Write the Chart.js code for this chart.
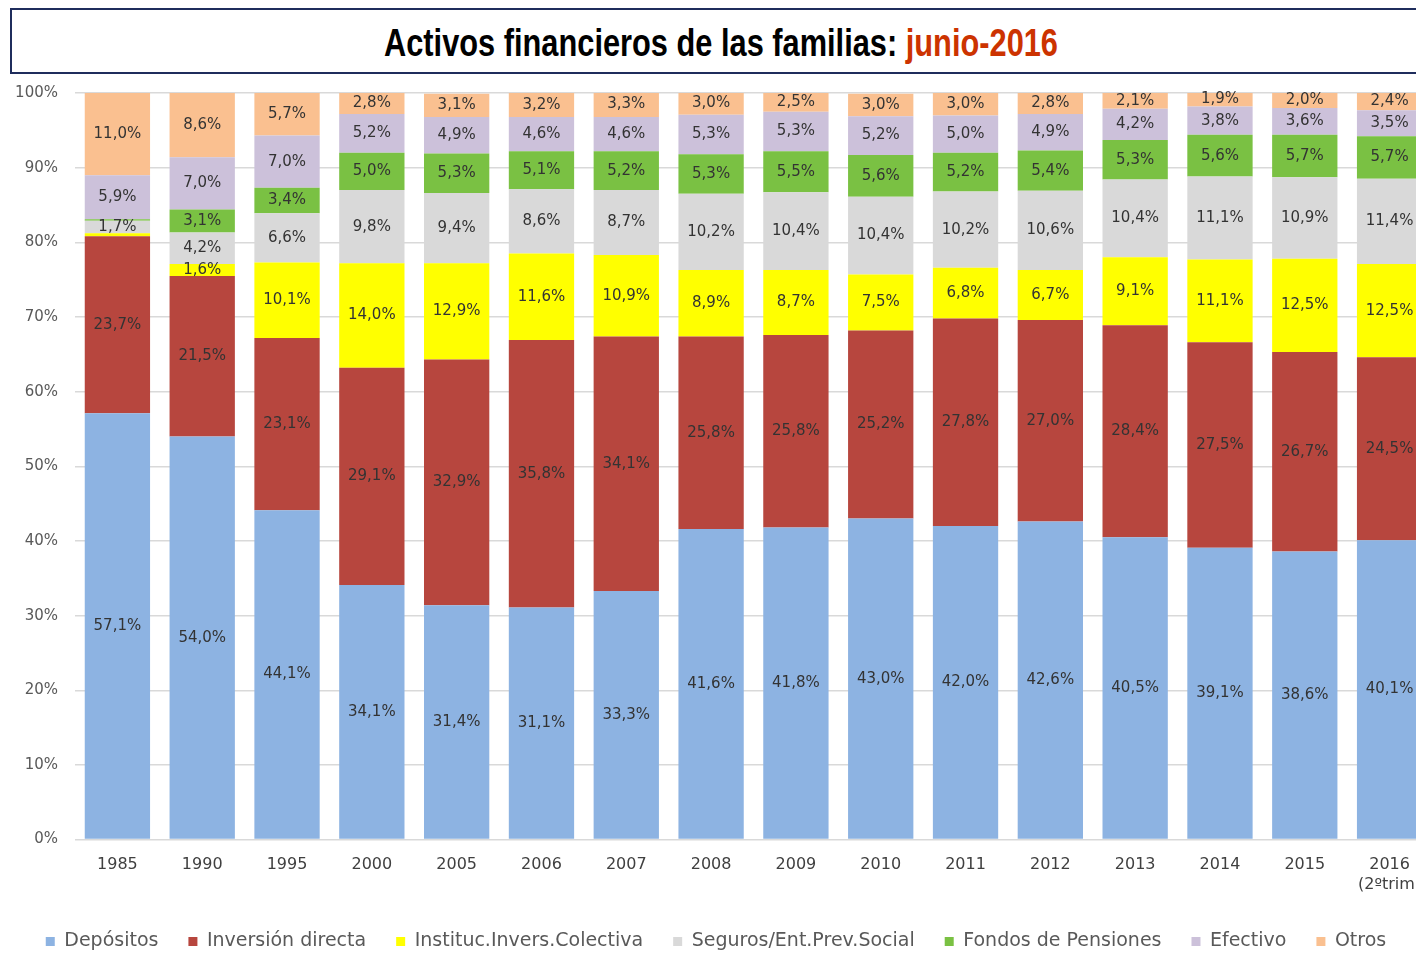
<!DOCTYPE html>
<html>
<head>
<meta charset="utf-8">
<script src="https://cdn.jsdelivr.net/npm/chart.js@4.4.1/dist/chart.umd.min.js"></script>
<style>
  html, body { margin: 0; padding: 0; background: #fff; overflow: hidden; width: 1416px; height: 955px; }
  #titleBox {
    position: absolute; left: 10px; top: 8px; width: 1440px; height: 62px;
    border: 2px solid #1f2d5c; box-sizing: content-box;
  }
  #titleText {
    position: absolute; left: 721px; top: 43px; transform: translate(-50%, -50%) scaleX(0.81);
    white-space: nowrap; font-family: "Liberation Sans Narrow", "Liberation Sans", sans-serif;
    font-weight: bold; font-size: 38px; color: #000;
  }
  #titleText span { color: #cc3300; }
  #wrap { position: absolute; left: 0; top: 0; width: 1432px; height: 961px; }
</style>
</head>
<body>
<div id="titleBox"></div>
<div id="titleText">Activos financieros de las familias: <span>junio-2016</span></div>
<div id="wrap"><canvas id="chart"></canvas></div>
<script>
// Categories and series (percent of total household financial assets)
const years = ['1985','1990','1995','2000','2005','2006','2007','2008','2009','2010','2011','2012','2013','2014','2015',['2016','(2ºtrim)']];

const depositos   = [57.1, 54.0, 44.1, 34.1, 31.4, 31.1, 33.3, 41.6, 41.8, 43.0, 42.0, 42.6, 40.5, 39.1, 38.6, 40.1];
const inversion   = [23.7, 21.5, 23.1, 29.1, 32.9, 35.8, 34.1, 25.8, 25.8, 25.2, 27.8, 27.0, 28.4, 27.5, 26.7, 24.5];
const instituc    = [0.4, 1.6, 10.1, 14.0, 12.9, 11.6, 10.9, 8.9, 8.7, 7.5, 6.8, 6.7, 9.1, 11.1, 12.5, 12.5];
const seguros     = [1.7, 4.2, 6.6, 9.8, 9.4, 8.6, 8.7, 10.2, 10.4, 10.4, 10.2, 10.6, 10.4, 11.1, 10.9, 11.4];
const fondos      = [0.2, 3.1, 3.4, 5.0, 5.3, 5.1, 5.2, 5.3, 5.5, 5.6, 5.2, 5.4, 5.3, 5.6, 5.7, 5.7];
const efectivo    = [5.9, 7.0, 7.0, 5.2, 4.9, 4.6, 4.6, 5.3, 5.3, 5.2, 5.0, 4.9, 4.2, 3.8, 3.6, 3.5];
const otros       = [11.0, 8.6, 5.7, 2.8, 3.1, 3.2, 3.3, 3.0, 2.5, 3.0, 3.0, 2.8, 2.1, 1.9, 2.0, 2.4];

const yTicks = [0, 10, 20, 30, 40, 50, 60, 70, 80, 90, 100];

const FONT = '"DejaVu Sans", sans-serif';

// draws the value inside each segment
const segmentLabels = {
  id: 'segmentLabels',
  afterDatasetsDraw(chart) {
    const ctx = chart.ctx;
    ctx.save();
    ctx.font = '15px ' + FONT;
    ctx.fillStyle = '#333333';
    ctx.textAlign = 'center';
    ctx.textBaseline = 'middle';
    chart.data.datasets.forEach((ds, i) => {
      const meta = chart.getDatasetMeta(i);
      meta.data.forEach((bar, j) => {
        const v = ds.data[j];
        if (v < 1) return;
        const y = (bar.y + bar.base) / 2;
        ctx.fillText(v.toFixed(1).replace('.', ',') + '%', bar.x, y);
      });
    });
    ctx.restore();
  }
};

function ds(label, data, color) {
  return { label: label, data: data, backgroundColor: color, borderWidth: 0,
           barPercentage: 0.77, categoryPercentage: 1 };
}

new Chart(document.getElementById('chart').getContext('2d'), {
  type: 'bar',
  data: {
    labels: years,
    datasets: [
      ds('Depósitos', depositos, '#8db3e2'),
      ds('Inversión directa', inversion, '#b7463e'),
      ds('Instituc.Invers.Colectiva', instituc, '#ffff00'),
      ds('Seguros/Ent.Prev.Social', seguros, '#d9d9d9'),
      ds('Fondos de Pensiones', fondos, '#7ac143'),
      ds('Efectivo', efectivo, '#ccc1da'),
      ds('Otros', otros, '#fac090')
    ]
  },
  options: {
    responsive: true,
    maintainAspectRatio: false,
    animation: false,
    layout: { padding: { top: 93, left: 0, right: 0, bottom: 0 } },
    plugins: {
      title: { display: false },
      tooltip: { enabled: false },
      legend: {
        position: 'bottom',
        labels: {
          boxWidth: 9, boxHeight: 9, padding: 30,
          color: '#595959', font: { family: FONT, size: 19 }
        }
      }
    },
    scales: {
      x: {
        stacked: true,
        grid: { display: false },
        border: { display: false },
        ticks: { color: '#404040', font: { family: FONT, size: 16 }, padding: 8, maxRotation: 0, autoSkip: false }
      },
      y: {
        stacked: true,
        min: 0, max: 100,
        afterBuildTicks(scale) { scale.ticks = yTicks.map(v => ({ value: v })); },
        afterFit(scale) { scale.width = 75; },
        grid: { color: '#d9d9d9', lineWidth: 1.5, drawTicks: false },
        border: { display: false },
        ticks: { color: '#595959', font: { family: FONT, size: 15 }, padding: 17, callback: v => v + '%' }
      }
    }
  },
  plugins: [segmentLabels]
});
</script>
</body>
</html>
